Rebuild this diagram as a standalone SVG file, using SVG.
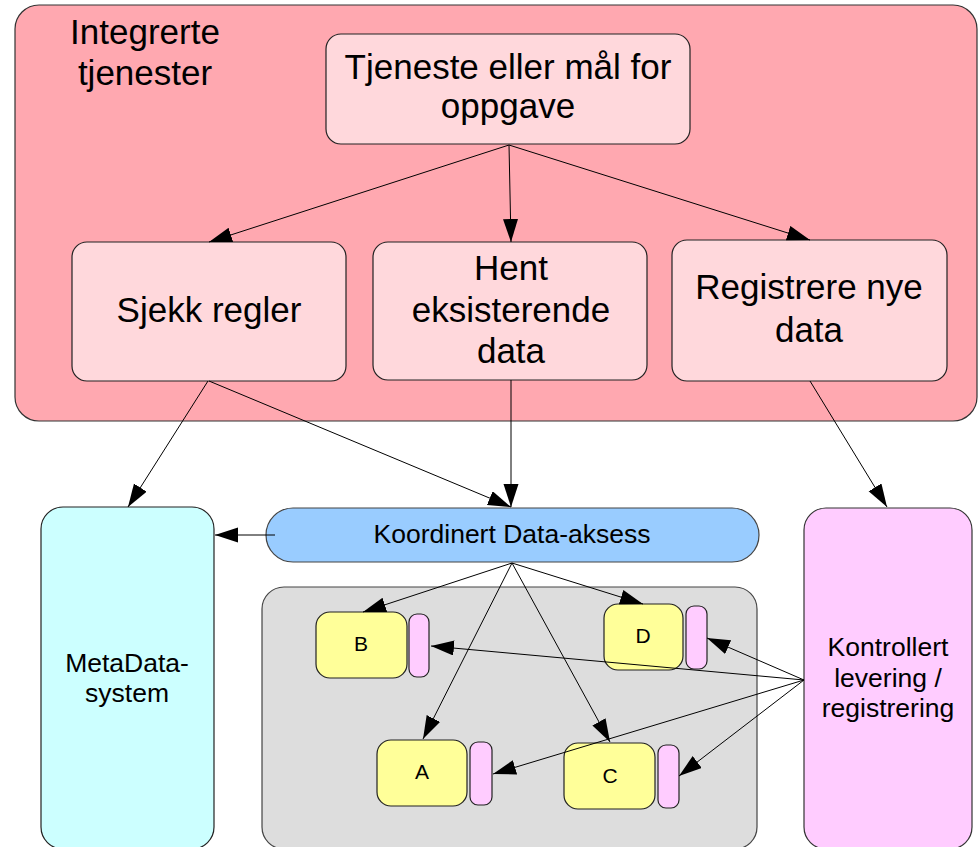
<svg xmlns="http://www.w3.org/2000/svg" width="979" height="847" viewBox="0 0 979 847">
  <defs>
    <marker id="arrow" markerUnits="userSpaceOnUse" markerWidth="24" markerHeight="16" refX="23" refY="7.5" orient="auto">
      <path d="M0,0 L23,7.5 L0,15 z" fill="#000"/>
    </marker>
    <style>
      text { font-family: "Liberation Sans", Arial, sans-serif; fill: #000; text-anchor: middle; }
      .big { font-size: 35px; }
      .mid { font-size: 26.5px; }
      .small { font-size: 21px; }
      .edge { stroke: #000; stroke-width: 1; fill: none; marker-end: url(#arrow); }
      .outer { fill: #ffa8b0; stroke: #333; stroke-width: 1.2; }
      .task { fill: #ffd8dc; stroke: #222; stroke-width: 1.2; }
      .meta { fill: #ccffff; stroke: #222; stroke-width: 1.2; }
      .access { fill: #99ccff; stroke: #444; stroke-width: 1.2; }
      .store { fill: #dddddd; stroke: #444; stroke-width: 1.2; }
      .ctrl { fill: #ffccff; stroke: #333; stroke-width: 1.2; }
      .db { fill: #ffff99; stroke: #222; stroke-width: 1.2; }
      .tab { fill: #ffccff; stroke: #222; stroke-width: 1.2; }
    </style>
  </defs>

  <!-- Integrated services container -->
  <g id="integrerte-tjenester">
    <rect class="outer" x="15" y="5" width="962" height="416" rx="24"/>
    <text class="big" x="145" y="44">Integrerte</text>
    <text class="big" x="145" y="85">tjenester</text>
  </g>

  <g id="tjeneste">
    <rect class="task" x="326" y="34" width="364" height="110" rx="15"/>
    <text class="big" x="508" y="79">Tjeneste eller mål for</text>
    <text class="big" x="508" y="118">oppgave</text>
  </g>

  <g id="sjekk-regler">
    <rect class="task" x="72" y="242" width="274" height="139" rx="15"/>
    <text class="big" x="209" y="322">Sjekk regler</text>
  </g>

  <g id="hent-data">
    <rect class="task" x="373" y="242" width="274" height="138" rx="15"/>
    <text class="big" x="511" y="280">Hent</text>
    <text class="big" x="511" y="322">eksisterende</text>
    <text class="big" x="511" y="363">data</text>
  </g>

  <g id="registrere-data">
    <rect class="task" x="672" y="240" width="275" height="141" rx="15"/>
    <text class="big" x="809" y="299">Registrere nye</text>
    <text class="big" x="809" y="342">data</text>
  </g>

  <!-- Lower row -->
  <g id="metadata-system">
    <rect class="meta" x="41" y="507" width="173" height="342" rx="22"/>
    <text class="mid" x="127" y="672">MetaData-</text>
    <text class="mid" x="127" y="702">system</text>
  </g>

  <g id="koordinert-data-aksess">
    <rect class="access" x="266" y="508" width="493" height="54" rx="27"/>
    <text class="mid" x="512" y="543">Koordinert Data-aksess</text>
  </g>

  <g id="datalager">
    <rect class="store" x="262" y="587" width="495" height="262" rx="22"/>
  </g>

  <g id="kilde-b">
    <rect class="db" x="316" y="612" width="91" height="66" rx="14"/>
    <rect class="tab" x="409" y="614" width="20" height="63" rx="8"/>
    <text class="small" x="361" y="651">B</text>
  </g>

  <g id="kilde-d">
    <rect class="db" x="604" y="604" width="79" height="66" rx="14"/>
    <rect class="tab" x="686" y="606" width="21" height="63" rx="8"/>
    <text class="small" x="643" y="643">D</text>
  </g>

  <g id="kilde-a">
    <rect class="db" x="377" y="740" width="90" height="66" rx="14"/>
    <rect class="tab" x="470" y="742" width="22" height="63" rx="8"/>
    <text class="small" x="422" y="779">A</text>
  </g>

  <g id="kilde-c">
    <rect class="db" x="564" y="743" width="91" height="66" rx="14"/>
    <rect class="tab" x="658" y="745" width="21" height="63" rx="8"/>
    <text class="small" x="610" y="783">C</text>
  </g>

  <g id="kontrollert-levering">
    <rect class="ctrl" x="804" y="508" width="168" height="341" rx="22"/>
    <text class="mid" x="888" y="656">Kontrollert</text>
    <text class="mid" x="888" y="687">levering /</text>
    <text class="mid" x="888" y="717">registrering</text>
  </g>

  <!-- Connectors -->
  <g id="connectors">
    <line class="edge" x1="509" y1="145" x2="209" y2="242"/>
    <line class="edge" x1="509" y1="145" x2="511" y2="242"/>
    <line class="edge" x1="509" y1="145" x2="810" y2="240"/>

    <line class="edge" x1="208" y1="381" x2="128" y2="507"/>
    <line class="edge" x1="209" y1="381" x2="511" y2="507"/>
    <line class="edge" x1="511" y1="380" x2="511" y2="507"/>
    <line class="edge" x1="810" y1="381" x2="887" y2="507"/>

    <line class="edge" x1="275" y1="535" x2="215" y2="535"/>

    <line class="edge" x1="512" y1="563" x2="363" y2="612"/>
    <line class="edge" x1="512" y1="563" x2="643" y2="604"/>
    <line class="edge" x1="512" y1="563" x2="423" y2="739"/>
    <line class="edge" x1="512" y1="563" x2="610" y2="742"/>

    <line class="edge" x1="804" y1="680" x2="431" y2="646"/>
    <line class="edge" x1="804" y1="680" x2="707" y2="638"/>
    <line class="edge" x1="804" y1="680" x2="493" y2="774"/>
    <line class="edge" x1="804" y1="680" x2="679" y2="776"/>
  </g>
</svg>
